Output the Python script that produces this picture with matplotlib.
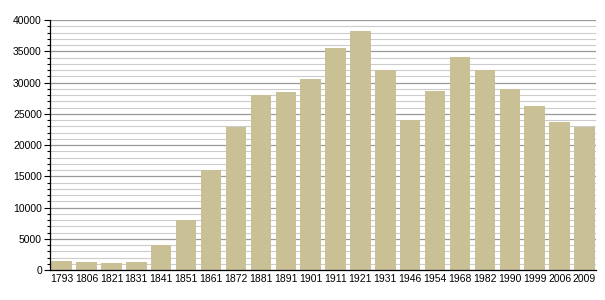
import matplotlib
matplotlib.use("Agg")
import matplotlib.pyplot as plt
from matplotlib.ticker import MultipleLocator

years = ["1793", "1806", "1821", "1831", "1841", "1851", "1861", "1872", "1881",
         "1891", "1901", "1911", "1921", "1931", "1946", "1954", "1968", "1982",
         "1990", "1999", "2006", "2009"]
population = [1450, 1300, 1150, 1250, 4000, 8000, 16000, 22900, 28000,
              28500, 30600, 35500, 38250, 32000, 24000, 28600, 34100, 32000,
              28900, 26250, 23700, 22900]

plt.rcParams["font.family"] = ["Liberation Sans", "DejaVu Sans"]

fig = plt.figure(figsize=(6.05, 3.0), dpi=100)
ax = fig.add_axes([0.083, 0.1, 0.902, 0.833])

x = list(range(len(years)))
ax.bar(x, population, width=0.82, color="#c9c096", zorder=3)

ax.set_xlim(-0.46, len(years) - 0.54)
ax.set_ylim(0, 40000)
ax.yaxis.set_major_locator(MultipleLocator(5000))
ax.yaxis.set_minor_locator(MultipleLocator(1000))
ax.grid(which="major", axis="y", color="#999999", linewidth=0.9, zorder=0)
ax.grid(which="minor", axis="y", color="#cccccc", linewidth=0.8, zorder=0)

ax.set_xticks(x)
ax.set_xticklabels(years)
ax.tick_params(axis="x", length=0, labelsize=7.5, pad=3)
ax.tick_params(axis="y", which="major", length=4, width=0.8, labelsize=7.5, pad=2)
ax.tick_params(axis="y", which="minor", length=2, width=0.8)

for s in ["top", "right"]:
    ax.spines[s].set_visible(False)
ax.spines["left"].set_linewidth(0.9)
ax.spines["bottom"].set_linewidth(0.9)
ax.spines["left"].set_zorder(4)
ax.spines["bottom"].set_zorder(4)

fig.savefig("out.png", dpi=100)
